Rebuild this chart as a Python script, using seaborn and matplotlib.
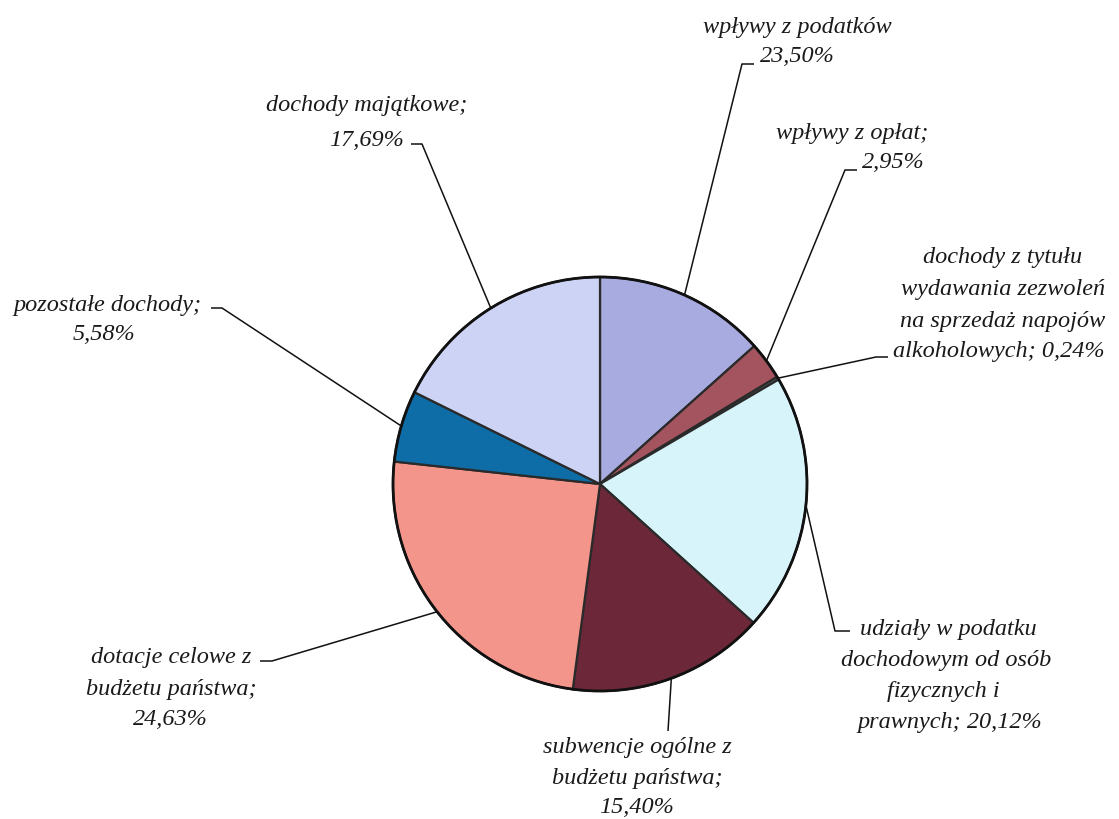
import matplotlib
matplotlib.use("Agg")
import matplotlib.pyplot as plt
import seaborn as sns
import numpy as np

# ---- data ----
categories = [
    "wpływy z podatków",
    "wpływy z opłat",
    "dochody z tytułu wydawania zezwoleń na sprzedaż napojów alkoholowych",
    "udziały w podatku dochodowym od osób fizycznych i prawnych",
    "subwencje ogólne z budżetu państwa",
    "dotacje celowe z budżetu państwa",
    "pozostałe dochody",
    "dochody majątkowe",
]
# slice sizes as drawn in the picture (%)
slice_values = [13.39, 2.95, 0.24, 20.12, 15.40, 24.63, 5.58, 17.69]
# label texts exactly as printed
label_lines = [
    ["wpływy z podatków", "23,50%"],
    ["wpływy z opłat;", "2,95%"],
    ["dochody z tytułu", "wydawania zezwoleń", "na sprzedaż napojów", "alkoholowych; 0,24%"],
    ["udziały w podatku", "dochodowym od osób", "fizycznych i", "prawnych; 20,12%"],
    ["subwencje ogólne z", "budżetu państwa;", "15,40%"],
    ["dotacje celowe z", "budżetu państwa;", "24,63%"],
    ["pozostałe dochody;", "5,58%"],
    ["dochody majątkowe;", "17,69%"],
]
colors = ["#A8ABDF", "#A3545F", "#4D5A55", "#D8F4FB", "#6C2739", "#F4958C", "#0E6CA6", "#CDD3F4"]

# ---- layout (pixel coordinates, y from top) ----
W, H = 1119, 820
CX, CY, R = 600, 485, 207
line_pos = [
    [(797, 28), (797, 57)],
    [(852, 133), (893, 163)],
    [(1003, 257), (1003, 290), (1003, 322), (999, 352)],
    [(948, 630), (946, 661), (943, 692), (950, 723)],
    [(637, 748), (637, 779), (637, 808)],
    [(171, 658), (171, 690), (170, 720)],
    [(107, 306), (104, 335)],
    [(367, 106), (367, 140)],
]
# leader: elbow point then tick end
leaders = [
    [(742, 65), (754, 65)],
    [(845, 171), (857, 171)],
    [(876, 358), (888, 358)],
    [(835, 632), (850, 632)],
    [(668, 732)],
    [(272, 662), (260, 662)],
    [(222, 309), (211, 309)],
    [(422, 145), (411, 145)],
]

sns.set_theme(style="white")
plt.rcParams["font.family"] = ["Liberation Serif", "DejaVu Serif"]

fig = plt.figure(figsize=(W / 100, H / 100), dpi=100)
ax = fig.add_axes([0, 0, 1, 1])
ax.set_aspect("equal")
ax.axis("off")

def fy(y):
    return H - y

wedges, _ = ax.pie(
    slice_values,
    colors=colors,
    startangle=90,
    counterclock=False,
    center=(CX, fy(CY)),
    radius=R,
    wedgeprops=dict(edgecolor="#2a2a2a", linewidth=1.6),
)
circle = plt.Circle((CX, fy(CY)), R, fill=False, edgecolor="#111111", linewidth=2.0, zorder=5)
ax.add_patch(circle)
ax.set_xlim(0, W)
ax.set_ylim(0, H)

for w, lines, pos, ld in zip(wedges, label_lines, line_pos, leaders):
    mid = np.deg2rad((w.theta1 + w.theta2) / 2)
    ex = CX + R * np.cos(mid)
    ey = fy(CY) + R * np.sin(mid)
    xs = [ex] + [p[0] for p in ld]
    ys = [ey] + [fy(p[1]) for p in ld]
    ax.plot(xs, ys, color="#111111", linewidth=1.1, zorder=6, solid_capstyle="butt")
    for txt, (tx, ty) in zip(lines, pos):
        ax.text(tx, fy(ty), txt, ha="center", va="center", fontsize=17.5,
                style="italic", color="#1a1a1a")

fig.savefig("out.png", dpi=100, facecolor="white")
